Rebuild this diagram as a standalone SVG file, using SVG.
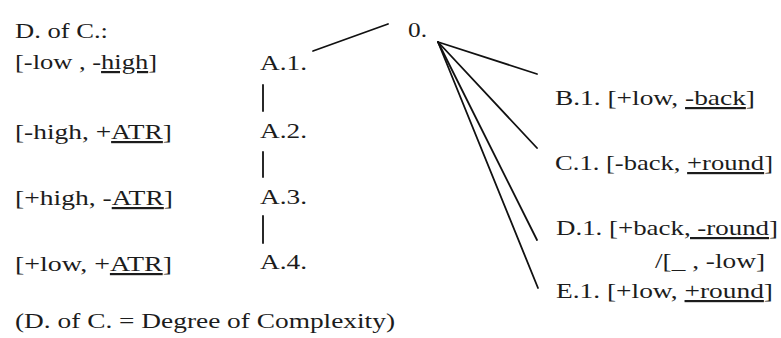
<svg xmlns="http://www.w3.org/2000/svg" width="781" height="338" viewBox="0 0 781 338">
<style>
text{font-family:"Liberation Serif","Times New Roman",serif;font-size:22px;fill:#1c1c1c}
.u{text-decoration:underline}
.c{stroke:#111;stroke-width:1.8;fill:none;stroke-linecap:round}
</style>
<rect width="781" height="338" fill="#fff"/>
<g id="legend">
<text x="15" y="38" textLength="93" lengthAdjust="spacingAndGlyphs">D. of C.:</text>
<text x="15" y="69" textLength="142" lengthAdjust="spacingAndGlyphs">[-low , -<tspan class="u">high</tspan>]</text>
<text x="15" y="139" textLength="157" lengthAdjust="spacingAndGlyphs">[-high, +<tspan class="u">ATR</tspan>]</text>
<text x="15" y="205" textLength="158" lengthAdjust="spacingAndGlyphs">[+high, -<tspan class="u">ATR</tspan>]</text>
<text x="15" y="271" textLength="157" lengthAdjust="spacingAndGlyphs">[+low, +<tspan class="u">ATR</tspan>]</text>
<text x="15" y="328" textLength="380" lengthAdjust="spacingAndGlyphs">(D. of C. = Degree of Complexity)</text>
</g>
<g id="n0"><text x="408" y="37" textLength="19" lengthAdjust="spacingAndGlyphs">0.</text></g>
<g id="A1"><text x="260" y="70" textLength="47" lengthAdjust="spacingAndGlyphs">A.1.</text></g>
<g id="A2"><text x="260" y="138" textLength="47" lengthAdjust="spacingAndGlyphs">A.2.</text></g>
<g id="A3"><text x="260" y="204" textLength="47" lengthAdjust="spacingAndGlyphs">A.3.</text></g>
<g id="A4"><text x="260" y="269" textLength="47" lengthAdjust="spacingAndGlyphs">A.4.</text></g>
<g id="B1"><text x="555" y="105" textLength="200" lengthAdjust="spacingAndGlyphs">B.1. [+low, <tspan class="u">-back</tspan>]</text></g>
<g id="C1"><text x="555" y="170" textLength="218" lengthAdjust="spacingAndGlyphs">C.1. [-back, <tspan class="u">+round</tspan>]</text></g>
<g id="D1"><text x="556" y="235" textLength="222" lengthAdjust="spacingAndGlyphs">D.1. [+back<tspan class="u">, -round</tspan>]</text>
<text x="655" y="268" textLength="110" lengthAdjust="spacingAndGlyphs">/[_ , -low]</text></g>
<g id="E1"><text x="556" y="298" textLength="217" lengthAdjust="spacingAndGlyphs">E.1. [+low, <tspan class="u">+round</tspan>]</text></g>
<g id="connectors">
<line class="c" x1="313" y1="51" x2="388" y2="24" stroke-width="2.2"/>
<line class="c" x1="263" y1="85" x2="263" y2="111"/>
<line class="c" x1="263" y1="152" x2="263" y2="177"/>
<line class="c" x1="263" y1="216" x2="263" y2="243"/>
<line class="c" x1="438" y1="42" x2="537" y2="74"/>
<line class="c" x1="438" y1="42" x2="537" y2="148"/>
<line class="c" x1="438" y1="42" x2="537" y2="240"/>
<line class="c" x1="438" y1="42" x2="538" y2="288"/>
</g>
</svg>
